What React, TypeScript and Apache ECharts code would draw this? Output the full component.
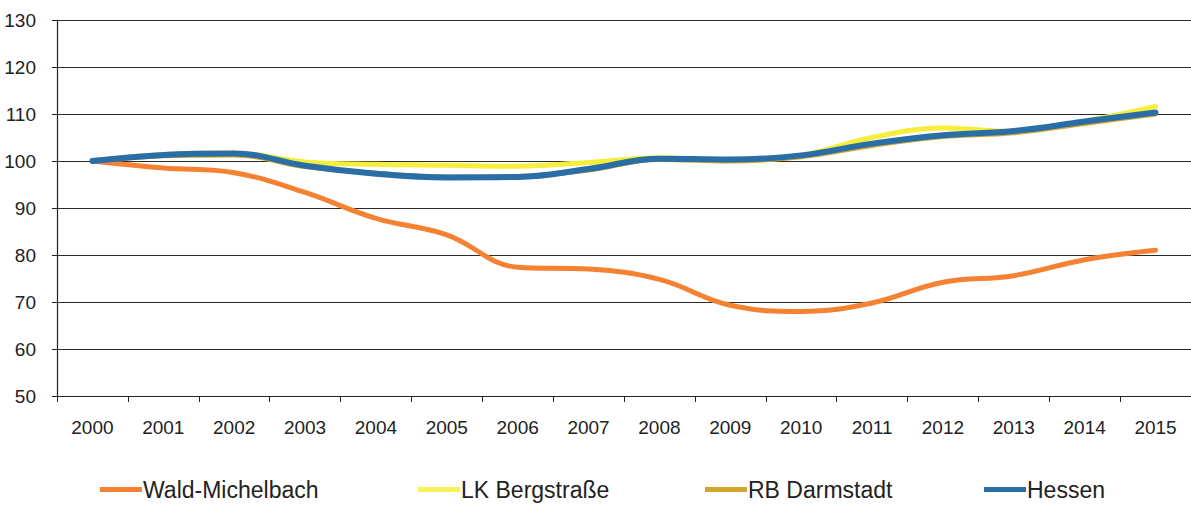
import React, { useEffect, useRef } from "react";
import * as echarts from "echarts";

const years = ["2000","2001","2002","2003","2004","2005","2006","2007","2008","2009","2010","2011","2012","2013","2014","2015"];
const waldMichelbach = [100, 98.5, 97.5, 93.3, 87.8, 84.3, 77.4, 77, 74.8, 69.3, 68, 69.8, 74.2, 75.6, 79, 81];
const lkBergstrasse = [100, 101.4, 101.7, 99.8, 99.3, 99.1, 98.9, 99.7, 100.7, 100.2, 101.2, 105, 107, 106.3, 108.5, 111.6];
const rbDarmstadt = [100, 101.1, 101.3, 98.8, 97.4, 96.6, 96.7, 98.1, 100.3, 100, 100.9, 103.3, 105.2, 106, 108, 110];
const hessen = [100, 101.3, 101.6, 99, 97.3, 96.5, 96.6, 98.3, 100.5, 100.3, 101.2, 103.7, 105.5, 106.4, 108.4, 110.3];
const yTicks = { min: 50, max: 130, interval: 10 };

const FONT = "'Liberation Sans Narrow', 'Arial Narrow', 'Liberation Sans', Arial, sans-serif";
const LFONT = "'Liberation Sans', Arial, sans-serif";

export default function App() {
  const ref = useRef<HTMLDivElement>(null);
  useEffect(() => {
    if (!ref.current) return;
    const chart = echarts.init(ref.current, null, { renderer: "svg" });
    const mk = (name: string, data: number[], color: string, width: number) => ({
      name,
      type: "line",
      data,
      smooth: 0.4,
      showSymbol: false,
      symbol: "none",
      lineStyle: { color, width, cap: "round" },
      itemStyle: { color },
      z: 2,
    });
    const leg = (name: string, left: number, color: string) => ({
      data: [{ name, icon: "rect", itemStyle: { color } }],
      left,
      top: 478,
      itemWidth: 42,
      itemHeight: 5,
      itemGap: 0,
      padding: 0,
      selectedMode: false,
      textStyle: { fontFamily: LFONT, fontSize: 23, color: "#222", padding: [0, 0, 0, -4] },
    });
    chart.setOption({
      animation: false,
      backgroundColor: "#fff",
      grid: { left: 57, top: 20, width: 1147, height: 376, containLabel: false },
      xAxis: {
        type: "category",
        data: years,
        boundaryGap: true,
        axisLine: { lineStyle: { color: "#222", width: 1.2 } },
        axisTick: { show: true, interval: 0, length: 6, lineStyle: { color: "#222" } },
        axisLabel: { interval: 0, margin: 22, fontFamily: FONT, fontSize: 19, color: "#222" },
      },
      yAxis: {
        type: "value",
        min: yTicks.min,
        max: yTicks.max,
        interval: yTicks.interval,
        axisLine: { show: true, lineStyle: { color: "#222", width: 1.2 } },
        axisTick: { show: true, length: 5, lineStyle: { color: "#222" } },
        axisLabel: { margin: 21, fontFamily: FONT, fontSize: 19, color: "#222" },
        splitLine: { show: true, lineStyle: { color: "#2a2a2a", width: 1.2 } },
      },
      legend: [
        leg("Wald-Michelbach", 100, "#f58232"),
        leg("LK Bergstraße", 418, "#f7f05a"),
        leg("RB Darmstadt", 705, "#d2a62c"),
        leg("Hessen", 984, "#2a6ea8"),
      ],
      series: [
        mk("Wald-Michelbach", waldMichelbach, "#f58232", 5),
        mk("LK Bergstraße", lkBergstrasse, "#f5ee3c", 5),
        mk("RB Darmstadt", rbDarmstadt, "#d2a62c", 5),
        mk("Hessen", hessen, "#2a6ea8", 6),
      ],
    });
    return () => chart.dispose();
  }, []);
  return (
    <div
      ref={ref}
      style={{ position: "absolute", left: 0, top: 0, width: 1191, height: 511, background: "#fff" }}
    />
  );
}
